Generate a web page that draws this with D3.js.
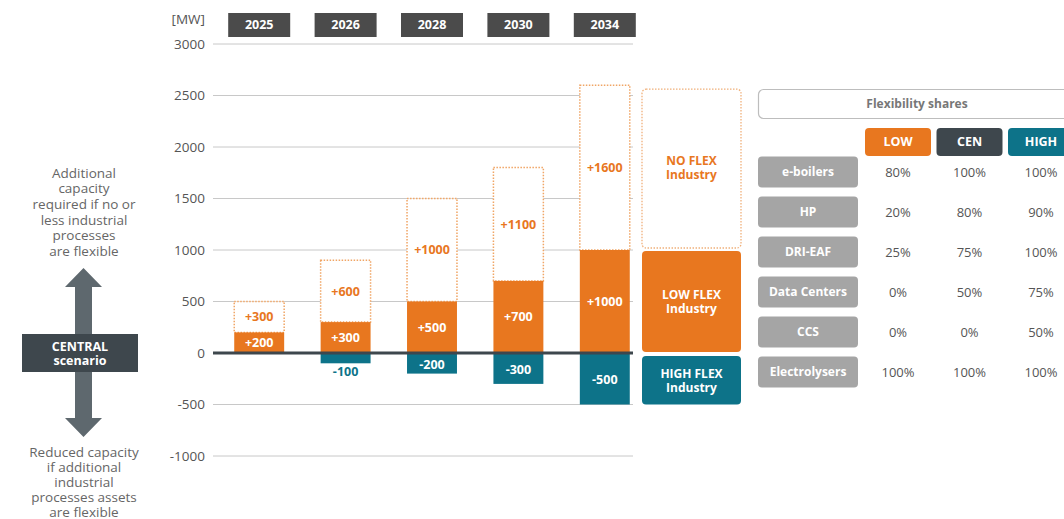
<!DOCTYPE html>
<html><head><meta charset="utf-8">
<script src="https://cdn.jsdelivr.net/npm/d3@7"></script>
<style>body{margin:0;background:#fff;}svg{display:block;font-family:"Open Sans","Noto Sans",sans-serif;}</style>
</head><body><svg id="c" width="1064" height="519"></svg>
<script>
const years = ["2025","2026","2028","2030","2034"];
const lowFlex = [200,300,500,700,1000];
const noFlex = [300,600,1000,1100,1600];
const highFlex = [0,-100,-200,-300,-500];
const yTicks = [3000,2500,2000,1500,1000,500,0,-500,-1000];
const techs = ["e-boilers","HP","DRI-EAF","Data Centers","CCS","Electrolysers"];
const scen = ["LOW","CEN","HIGH"];
const shareLow = ["80%","20%","25%","0%","0%","100%"];
const shareCen = ["100%","80%","75%","50%","0%","100%"];
const shareHigh = ["100%","90%","100%","75%","50%","100%"];
const topText = ["Additional","capacity","required if no or","less industrial","processes","are flexible"];
const botText = ["Reduced capacity","if additional","industrial","processes assets","are flexible"];
const centralText = ["CENTRAL","scenario"];

const ORANGE="#E8771F", TEAL="#0D7389", DARK="#3E474D", HEAD="#4B4B4B", GRAYBOX="#A5A5A5", TXT="#555";
const svg = d3.select("#c");
const y = d3.scaleLinear().domain([-1000,3000]).range([456,44]);
const x = d3.scaleBand().domain(years).range([216,648]).paddingInner(0.422).paddingOuter(0.211);
const gx0=213, gx1=633;

function multiline(g, lines, xPos, y0, lh, attrs){
  const t = g.append("text").attr("text-anchor","middle");
  Object.entries(attrs).forEach(([k,v])=>t.attr(k,v));
  lines.forEach((s,i)=>t.append("tspan").attr("x",xPos).attr("y",y0+i*lh).attr("dy","0.35em").text(s));
  return t;
}

// gridlines + tick labels
const ax = svg.append("g");
ax.selectAll("line").data(yTicks).join("line")
  .attr("x1",gx0).attr("x2",gx1).attr("y1",d=>y(d)).attr("y2",d=>y(d))
  .attr("stroke","#c8c8c8").attr("stroke-width",1);
ax.selectAll("text").data(yTicks).join("text")
  .attr("x",205).attr("y",d=>y(d)).attr("dy","0.35em").attr("text-anchor","end")
  .attr("font-size",13.5).attr("fill",TXT).text(d=>d);
svg.append("text").attr("x",205).attr("y",24).attr("text-anchor","end").attr("font-size",13.5).attr("fill",TXT).text("[MW]");

// year header boxes
const hd = svg.append("g");
hd.selectAll("rect").data(years).join("rect")
  .attr("x",d=>x(d)+x.bandwidth()/2-31).attr("y",13).attr("width",62).attr("height",24).attr("fill",HEAD);
hd.selectAll("text").data(years).join("text")
  .attr("x",d=>x(d)+x.bandwidth()/2).attr("y",25).attr("dy","0.35em").attr("text-anchor","middle")
  .attr("font-size",12.5).attr("font-weight","bold").attr("fill","#fff").text(d=>d);

const data = years.map((yr,i)=>({yr,low:lowFlex[i],no:noFlex[i],high:highFlex[i]}));
const bw = x.bandwidth();
// no flex dotted boxes
svg.append("g").selectAll("rect").data(data).join("rect")
  .attr("x",d=>x(d.yr)).attr("width",bw)
  .attr("y",d=>y(d.low+d.no)).attr("height",d=>y(d.low)-y(d.low+d.no))
  .attr("fill","#fff").attr("stroke","#F0A565").attr("stroke-width",1.5).attr("stroke-dasharray","1.5,1.5");
// low bars
svg.append("g").selectAll("rect").data(data).join("rect")
  .attr("x",d=>x(d.yr)).attr("width",bw)
  .attr("y",d=>y(d.low)).attr("height",d=>y(0)-y(d.low)).attr("fill",ORANGE);
// high bars
svg.append("g").selectAll("rect").data(data.filter(d=>d.high<0)).join("rect")
  .attr("x",d=>x(d.yr)).attr("width",bw)
  .attr("y",y(0)).attr("height",d=>y(d.high)-y(0)).attr("fill",TEAL);
// zero line
svg.append("line").attr("x1",gx0).attr("x2",gx1).attr("y1",y(0)).attr("y2",y(0)).attr("stroke",DARK).attr("stroke-width",3);

const lab = svg.append("g").attr("font-size",12.5).attr("font-weight","bold").attr("text-anchor","middle");
const cx = d=>x(d.yr)+bw/2;
lab.selectAll(".n").data(data).join("text").attr("class","n")
  .attr("x",cx).attr("y",d=>(y(d.low)+y(d.low+d.no))/2).attr("dy","0.35em").attr("fill",ORANGE).text(d=>"+"+d.no);
lab.selectAll(".l").data(data).join("text").attr("class","l")
  .attr("x",cx).attr("y",d=>(y(0)+y(d.low))/2).attr("dy","0.35em").attr("fill","#fff").text(d=>"+"+d.low);
lab.selectAll(".h").data(data.filter(d=>d.high<0)).join("text").attr("class","h")
  .attr("x",cx).attr("y",d=>{const h=y(d.high)-y(0);return h<18? y(d.high)+8 : (y(0)+y(d.high))/2+1;})
  .attr("dy","0.35em").attr("fill",d=>(y(d.high)-y(0))<18?TEAL:"#fff").text(d=>d.high);

// right legend boxes aligned with last year
const last = data[data.length-1];
const lg = svg.append("g");
const lx=642, lw=99;
lg.append("rect").attr("x",lx).attr("y",y(last.low+last.no)+4).attr("width",lw).attr("height",y(last.low)-y(last.low+last.no)-6)
  .attr("rx",4).attr("fill","#fff").attr("stroke","#F0B07A").attr("stroke-width",1.3).attr("stroke-dasharray","1.5,1.5");
lg.append("rect").attr("x",lx).attr("y",y(last.low)+1).attr("width",lw).attr("height",y(0)-y(last.low)-2).attr("rx",4).attr("fill",ORANGE);
lg.append("rect").attr("x",lx).attr("y",y(0)+3).attr("width",lw).attr("height",y(last.high)-y(0)-3).attr("rx",4).attr("fill",TEAL);
const legText = [
  {t:["NO FLEX","Industry"],c:(y(last.low)+y(last.low+last.no))/2,f:ORANGE},
  {t:["LOW FLEX","Industry"],c:(y(0)+y(last.low))/2,f:"#fff"},
  {t:["HIGH FLEX","Industry"],c:(y(0)+y(last.high))/2+2,f:"#fff"}];
legText.forEach(o=>{
  multiline(lg, o.t, lx+lw/2, o.c-7, 14, {"font-size":12,"font-weight":"bold","fill":o.f});
});

// flexibility table
const tb = svg.append("g");
tb.append("rect").attr("x",758.5).attr("y",89.5).attr("width",330).attr("height",29).attr("rx",5)
  .attr("fill","#fff").attr("stroke","#bdbdbd").attr("stroke-width",1.2);
tb.append("text").attr("x",917).attr("y",104).attr("dy","0.35em").attr("text-anchor","middle")
  .attr("font-size",12).attr("font-weight","bold").attr("fill","#777").text("Flexibility shares");
const colX = d3.scalePoint().domain(scen).range([898,1041]);
const colFill = {LOW:ORANGE,CEN:DARK,HIGH:TEAL};
tb.selectAll(".ch").data(scen).join("rect").attr("class","ch")
  .attr("x",d=>colX(d)-33).attr("y",128).attr("width",66).attr("height",28).attr("rx",4).attr("fill",d=>colFill[d]);
tb.selectAll(".ct").data(scen).join("text").attr("class","ct")
  .attr("x",d=>colX(d)).attr("y",142).attr("dy","0.35em").attr("text-anchor","middle")
  .attr("font-size",12.5).attr("font-weight","bold").attr("fill","#fff").text(d=>d);
const rowY = d3.scalePoint().domain(techs).range([172,372]);
tb.selectAll(".rb").data(techs).join("rect").attr("class","rb")
  .attr("x",758).attr("y",d=>rowY(d)-15.5).attr("width",100).attr("height",31).attr("rx",4).attr("fill",GRAYBOX);
tb.selectAll(".rt").data(techs).join("text").attr("class","rt")
  .attr("x",808).attr("y",d=>rowY(d)).attr("dy","0.35em").attr("text-anchor","middle")
  .attr("font-size",12).attr("font-weight","bold").attr("fill","#fff").text(d=>d);
[shareLow,shareCen,shareHigh].forEach((arr,j)=>{
  tb.append("g").selectAll("text").data(arr).join("text")
    .attr("x",colX(scen[j])).attr("y",(d,i)=>rowY(techs[i])).attr("dy","0.35em").attr("text-anchor","middle")
    .attr("font-size",13).attr("fill",TXT).text(d=>d);
});

// left annotation
const lf = svg.append("g");
multiline(lf, topText, 84, 173, 15.6, {"font-size":13.5,"fill":"#666"});
multiline(lf, botText, 84, 452, 15, {"font-size":13.5,"fill":"#666"});
const AR="#5E686E";
svg.append("path").attr("fill",AR)
  .attr("d","M83.5,268 L102,287 L92,287 L92,334 L75,334 L75,287 L65,287 Z");
svg.append("path").attr("fill",AR)
  .attr("d","M83.5,437 L102,418 L92,418 L92,372 L75,372 L75,418 L65,418 Z");
svg.append("rect").attr("x",22).attr("y",334).attr("width",116).attr("height",38).attr("fill",DARK);
multiline(svg, centralText, 80, 347, 14, {"font-size":12.5,"font-weight":"bold","fill":"#fff"});
</script></body></html>
